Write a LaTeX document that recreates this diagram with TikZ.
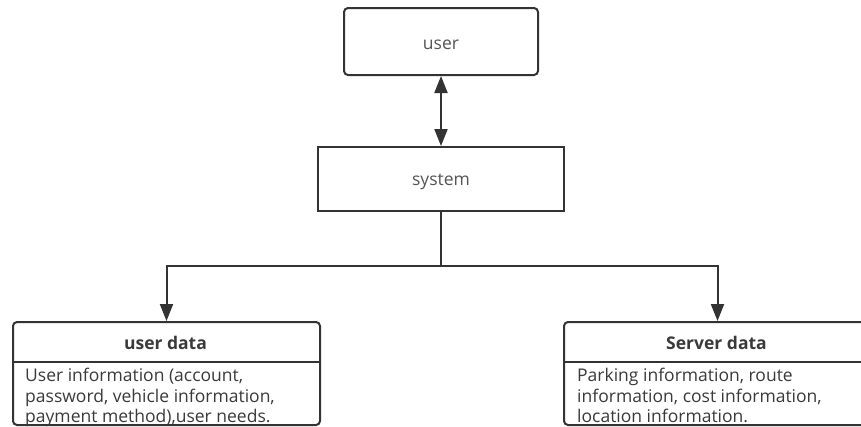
\documentclass[tikz,border=0pt]{standalone}
\usepackage{fontspec}
\setmainfont{Open Sans}
\usetikzlibrary{arrows.meta}
\definecolor{edge}{HTML}{333333}
\definecolor{label}{HTML}{555555}
\definecolor{body}{HTML}{3A3A3A}
\tikzset{
  box/.style={draw=edge, line width=2pt, fill=white, inner sep=0pt},
  wire/.style={draw=edge, line width=2pt},
  tip/.style={-{Triangle[length=17pt,width=13pt]}},
  caption/.style={font=\fontsize{17.5}{20}\selectfont, text=label},
  heading/.style={font=\fontsize{17.5}{20}\selectfont\bfseries, text=body},
  note/.style={font=\fontsize{17.5}{20.5}\selectfont, text=body, align=left, anchor=north west, inner sep=0pt}
}
\begin{document}
\begin{tikzpicture}[x=1pt, y=-1pt]
  \useasboundingbox (0,0) rectangle (861,426);
  \clip (0,0) rectangle (861,426);
  \fill[white] (0,0) rectangle (861,426);

  % top-level boxes
  \node[box, rounded corners=4pt, minimum width=194pt, minimum height=67pt] (user) at (441,41.5) {};
  \node[caption] (usertext) at ([yshift=-3.5pt]user.center) {user};
  \node[box, minimum width=246pt, minimum height=64pt] (system) at (441,179) {};
  \node[caption] (systemtext) at ([yshift=-3pt]system.center) {system};

  % data stores
  \node[box, rounded corners=4pt, minimum width=307pt, minimum height=103pt, anchor=north west] (udata) at (12,321) {};
  \node[box, rounded corners=4pt, minimum width=307pt, minimum height=103pt, anchor=north west] (sdata) at (563,321) {};
  \coordinate (uhl) at (12,362);
  \coordinate (shl) at (563,362);
  \draw[wire] (uhl) -- (uhl -| udata.east);
  \draw[wire] (shl) -- (shl -| sdata.east);
  \node[heading] (utitle) at (165.5,343) {user data};
  \node[heading] (stitle) at (716.5,343) {Server data};
  \node[note] (ubody) at (25,368) {User information (account,\\password, vehicle information,\\payment method),user needs.};
  \node[note] (sbody) at (577,368) {Parking information, route\\information, cost information,\\location information.};

  % connectors
  \draw[wire, {Triangle[length=17pt,width=13pt]}-{Triangle[length=17pt,width=13pt]}] (user.south) -- (system.north);
  \coordinate (split) at (441,265.5);
  \draw[wire] (system.south) -- (split);
  \draw[wire, tip] (split) -| (udata.north);
  \draw[wire, tip] (split) -| (sdata.north);
\end{tikzpicture}
\end{document}
